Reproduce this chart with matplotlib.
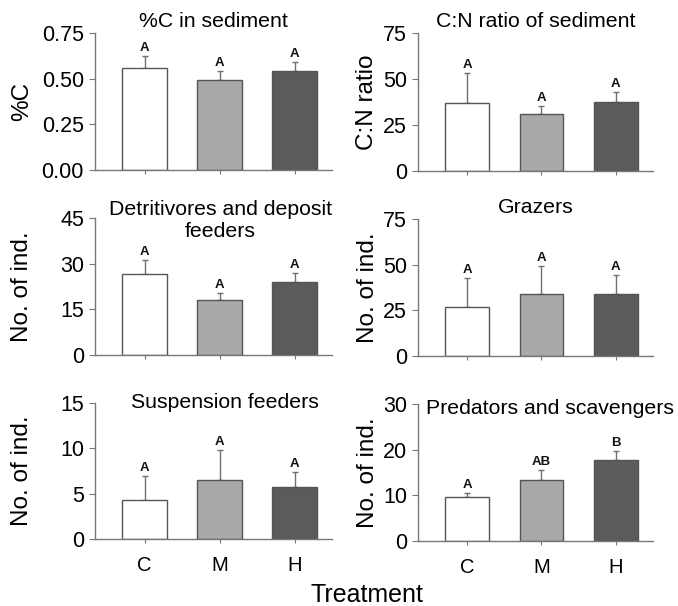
import matplotlib
matplotlib.use("Agg")
import matplotlib.pyplot as plt
import numpy as np

plt.rcParams['font.family'] = ['Liberation Sans', 'DejaVu Sans']

treatments = ["C", "M", "H"]
bar_colors = ["#ffffff", "#a9a9a9", "#5b5b5b"]

titles = ["%C in sediment", "C:N ratio of sediment",
          "Detritivores and deposit\nfeeders", "Grazers",
          "Suspension feeders", "Predators and scavengers"]
ylabels = ["%C", "C:N ratio", "No. of ind.", "No. of ind.", "No. of ind.", "No. of ind."]

carbon_mean = [0.558, 0.492, 0.541]
carbon_se = [0.068, 0.048, 0.052]
cn_mean = [37.2, 31.2, 37.4]
cn_se = [16.0, 4.2, 5.5]
detr_mean = [26.5, 18.0, 23.9]
detr_se = [4.7, 2.3, 3.0]
graz_mean = [26.9, 34.1, 34.1]
graz_se = [16.0, 15.1, 10.4]
susp_mean = [4.34, 6.51, 5.70]
susp_se = [2.65, 3.31, 1.65]
pred_mean = [9.68, 13.4, 17.75]
pred_se = [0.92, 2.15, 1.91]

letters_all = [["A", "A", "A"]] * 5 + [["A", "AB", "B"]]
means = [carbon_mean, cn_mean, detr_mean, graz_mean, susp_mean, pred_mean]
ses = [carbon_se, cn_se, detr_se, graz_se, susp_se, pred_se]
yticks = [[0.0, 0.25, 0.5, 0.75], [0, 25, 50, 75], [0, 15, 30, 45],
          [0, 25, 50, 75], [0, 5, 10, 15], [0, 10, 20, 30]]
yticklabels = [["0.00", "0.25", "0.50", "0.75"], None, None, None, None, None]

W, H = 678, 606
fig = plt.figure(figsize=(W / 100, H / 100), dpi=100)

# pixel boxes (left, top, right, bottom)
boxes = [(95, 33, 332, 170), (418, 33, 653, 171),
         (95, 218, 332, 355), (418, 219, 653, 356),
         (95, 403, 332, 539), (418, 404, 653, 541)]

axes = []
for i, (l, t, r, b) in enumerate(boxes):
    ax = fig.add_axes([l / W, 1 - b / H, (r - l) / W, (b - t) / H])
    axes.append(ax)
    x = np.arange(3)
    ax.bar(x, means[i], width=0.59, color=bar_colors, edgecolor="#555555",
           linewidth=1.0, zorder=2)
    ax.errorbar(x, means[i], yerr=[[0, 0, 0], ses[i]], fmt="none",
                ecolor="#707070", elinewidth=1.0, capsize=2.5, capthick=1.0, zorder=1)
    top = yticks[i][-1]
    for xi, m, s, lt in zip(x, means[i], ses[i], letters_all[i]):
        ax.text(xi, m + s + top * 0.015, lt, ha="center", va="bottom",
                fontsize=9.5, fontweight="bold", color="#111111")
    ax.set_ylim(0, top)
    ax.set_xlim(-0.66, 2.5)
    ax.set_yticks(yticks[i])
    if yticklabels[i] is not None:
        ax.set_yticklabels(yticklabels[i])
    ax.set_xticks(x)
    if i >= 4:
        ax.set_xticklabels(treatments, fontsize=14.5)
    else:
        ax.set_xticklabels([])
    for s in ["top", "right"]:
        ax.spines[s].set_visible(False)
    for s in ["left", "bottom"]:
        ax.spines[s].set_color("#777777")
        ax.spines[s].set_linewidth(1.0)
    ax.tick_params(axis="y", labelsize=15.5, length=4, color="#777777", pad=4)
    ax.tick_params(axis="x", length=3, color="#777777", pad=9)
    ax.set_ylabel(ylabels[i], fontsize=17.5)

# titles
TS = 15.3
axes[0].set_title(titles[0], fontsize=TS, pad=4)
axes[1].set_title(titles[1], fontsize=TS, pad=4)
axes[2].text(0.53, 0.98, titles[2], transform=axes[2].transAxes, ha="center",
             va="center", fontsize=TS, linespacing=1.2)
axes[3].set_title(titles[3], fontsize=TS, pad=4)
axes[4].text(0.55, 1.0, titles[4], transform=axes[4].transAxes, ha="center",
             va="center", fontsize=TS)
axes[5].text(0.56, 0.97, titles[5], transform=axes[5].transAxes, ha="center",
             va="center", fontsize=TS)

# align ylabels
for ax, xpix in zip(axes, [22, 367, 22, 368, 22, 368]):
    l = ax.get_position().x0 * W
    ax.yaxis.set_label_coords((xpix - l) / (ax.get_position().width * W), 0.5)
    ax.yaxis.label.set_va("center")

fig.text(367 / W, 1 - 602 / H, "Treatment", ha="center", va="baseline", fontsize=18)

fig.savefig("out.png", dpi=100)
